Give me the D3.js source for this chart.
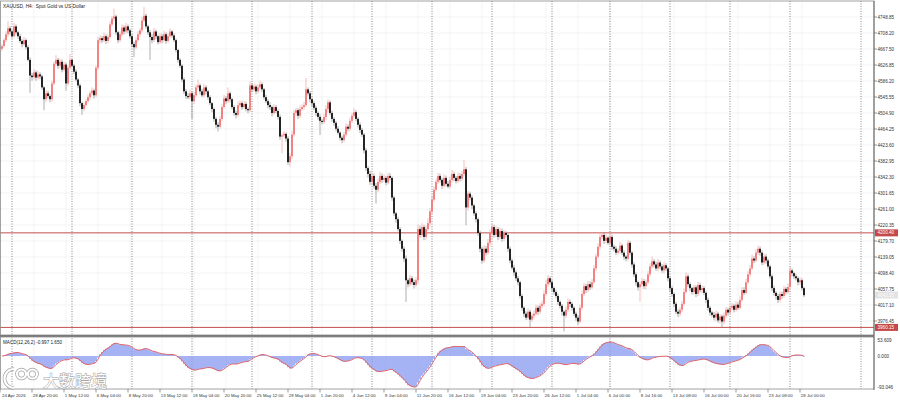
<!DOCTYPE html>
<html>
<head>
<meta charset="utf-8">
<script src="https://cdn.jsdelivr.net/npm/d3@7"></script>
<style>
  html, body { margin: 0; padding: 0; background: #fff; }
  svg { display: block; font-family: "Liberation Sans", Arial, sans-serif; }
</style>
</head>
<body>
<div class="main"></div>
<script>
// XAUUSD H4 closes, one per bar, starting 24 Apr 2026 04:00
const closes = [
  4675,4690,4705,4720,4712,4700,4725,4710,4700,4688,
  4680,4690,4672,4640,4600,4596,4608,4595,4603,4598,
  4570,4540,4555,4548,4540,4580,4630,4640,4625,4635,
  4615,4628,4580,4620,4640,4625,4610,4590,4575,4530,
  4515,4525,4535,4545,4555,4562,4550,4620,4690,4695,
  4690,4700,4688,4698,4730,4745,4750,4710,4690,4705,
  4722,4712,4725,4715,4700,4680,4672,4690,4705,4715,
  4740,4752,4725,4710,4698,4690,4712,4700,4685,4700,
  4690,4705,4688,4700,4712,4702,4690,4665,4640,4625,
  4590,4560,4548,4545,4555,4535,4550,4570,4575,4560,
  4550,4570,4560,4545,4530,4515,4490,4475,4470,4490,
  4520,4542,4535,4555,4540,4520,4505,4500,4525,4530,
  4520,4528,4515,4512,4575,4565,4572,4560,4570,4578,
  4565,4545,4535,4525,4520,4505,4520,4510,4495,4445,
  4448,4452,4440,4380,4395,4450,4505,4512,4498,4515,
  4520,4525,4565,4555,4540,4530,4518,4505,4495,4485,
  4482,4495,4515,4532,4505,4490,4480,4465,4455,4442,
  4436,4450,4470,4465,4485,4498,4507,4490,4475,4462,
  4450,4410,4365,4350,4330,4345,4320,4310,4330,4345,
  4335,4340,4328,4345,4340,4290,4250,4235,4210,4180,
  4160,4135,4080,4070,4085,4075,4068,4080,4210,4195,
  4215,4190,4210,4225,4255,4285,4310,4330,4345,4335,
  4320,4340,4325,4318,4335,4350,4340,4332,4345,4338,
  4350,4362,4265,4300,4290,4270,4250,4235,4200,4160,
  4130,4160,4150,4175,4200,4215,4195,4210,4190,4205,
  4185,4200,4195,4160,4130,4112,4100,4085,4075,4040,
  4010,3995,3985,4000,3980,3990,3995,4010,4000,4015,
  4020,4045,4070,4085,4075,4060,4050,4040,4025,4015,
  4000,3990,4005,4025,4020,4010,3995,3985,3975,4010,
  4045,4065,4055,4070,4062,4075,4110,4140,4165,4190,
  4195,4180,4188,4175,4190,4165,4160,4150,4155,4168,
  4150,4140,4135,4175,4150,4120,4095,4075,4062,4070,
  4078,4065,4075,4095,4115,4128,4120,4110,4125,4115,
  4105,4118,4110,4085,4060,4045,4020,4000,3995,4005,
  4020,4050,4090,4070,4060,4050,4062,4045,4068,4055,
  4060,4048,4030,4010,3998,3992,3985,3995,3978,3988,
  3975,3990,4005,3998,4010,4015,4005,4018,4010,4030,
  4055,4048,4075,4095,4110,4135,4130,4150,4160,4150,
  4125,4140,4130,4115,4090,4060,4048,4040,4030,4045,
  4040,4058,4050,4063,4105,4098,4090,4085,4075,4080,
  4060,4042
];
// upper / lower shadow length beyond the body, price units
const wickUp = [
  5,6,8,18,6,4,9,5,4,6, 5,8,4,5,6,7,8,5,9,6, 5,4,8,6,5,7,6,12,5,8, 6,7,5,6,15,4,5,6,4,5,
  4,6,5,7,6,8,5,6,8,7, 6,9,5,7,8,6,20,5,4,7, 8,6,9,5,4,5,6,7,8,6, 9,22,5,4,6,7,9,5,4,8,
  6,9,5,7,8,4,5,4,3,5, 4,5,6,7,9,5,8,7,15,5, 6,9,5,4,5,3,4,5,6,8, 7,9,6,15,5,4,5,6,9,7,
  5,8,6,4,10,6,8,5,7,9, 5,4,6,5,7,4,8,5,4,6, 5,7,4,6,8,10,8,6,5,9, 7,8,29,5,6,4,5,6,4,7,
  5,8,9,7,5,6,4,5,6,4, 5,7,9,6,8,7,10,5,4,6, 5,4,6,5,8,9,6,7,8,10, 6,9,5,8,7,4,5,4,6,5,
  4,6,8,5,9,6,7,8,12,9, 10,6,9,12,8,10,9,8,7,6, 5,9,6,7,8,10,6,5,9,7, 8,23,6,7,5,6,4,5,4,6,
  5,9,7,10,8,9,6,8,5,9, 6,8,5,4,6,5,7,5,6,4, 5,4,6,8,5,7,9,8,6,7, 8,9,10,8,5,6,4,5,6,4,
  5,4,8,9,6,5,4,5,6,8, 9,8,6,9,7,8,9,8,9,8, 8,6,9,5,15,6,5,7,6,9, 5,6,4,8,5,4,6,5,4,7,
  8,5,7,9,8,12,6,7,9,5, 6,8,5,4,5,6,4,5,6,7, 8,9,10,6,5,4,7,5,8,6, 7,5,4,6,5,4,7,8,5,6,
  5,8,7,5,6,7,5,8,6,9, 8,7,9,8,9,10,6,9,8,6, 5,8,6,5,4,5,6,4,5,7, 6,8,5,9,9,5,4,6,5,7,
  5,4
];
const wickDn = [
  6,4,5,7,8,5,4,6,7,5, 8,5,6,4,44,9,6,8,5,7, 6,28,7,5,8,6,4,5,8,6, 7,5,18,6,5,4,6,5,7,8,
  15,6,5,4,7,6,9,5,6,8, 7,5,8,6,4,5,6,7,8,5, 6,8,5,7,6,8,25,5,4,6, 5,4,6,7,58,8,5,7,6,5,
  8,6,7,5,4,6,5,6,7,5, 6,7,8,5,6,45,7,5,6,8, 5,6,8,7,6,8,7,9,12,5, 6,4,7,5,8,6,7,9,5,6,
  7,5,6,8,5,7,6,8,5,6, 7,6,5,8,7,9,5,6,7,8, 42,6,8,7,12,6,5,7,8,6, 5,7,4,6,8,7,6,8,7,36,
  6,5,7,8,6,7,8,6,5,7, 8,6,5,7,6,5,4,6,7,8, 6,8,7,9,8,6,7,35,6,5, 8,6,7,5,6,8,7,9,6,8,
  7,9,55,8,6,7,9,6,8,7, 6,8,7,5,6,8,5,4,6,7, 8,6,7,5,6,7,8,6,5,7, 6,5,45,8,7,9,6,8,7,9,
  8,6,7,5,8,6,7,5,8,6, 7,5,6,8,7,6,9,7,8,6, 7,8,6,5,19,6,7,5,8,6, 5,6,4,7,6,8,7,6,8,7,
  9,40,6,5,8,7,6,8,9,5, 6,5,8,6,7,5,4,6,5,7, 6,8,7,5,6,8,7,6,5,7, 6,8,7,5,6,8,7,9,8,37,
  6,7,8,5,6,5,7,6,8,7, 6,8,7,8,9,7,8,6,9,7, 6,5,4,7,8,6,7,8,5,6, 7,6,8,7,8,6,7,9,6,8,
  15,7,6,8,5,6,7,5,6,4, 5,6,4,5,6,4,7,5,6,8, 7,6,8,7,6,8,7,9,8,6, 7,5,6,5,6,8,7,6,8,7,
  6,5
];
const firstOpen = 4668;

const priceTicks = ["4748.85","4708.20","4667.50","4626.85","4586.20","4545.55","4504.90",
  "4464.25","4423.60","4382.95","4342.30","4301.65","4261.00","4220.35","4179.70","4139.05",
  "4098.40","4057.75","4017.10","3976.45"];
const levelPrices = [4200.40, 3960.15];
const lastPrice = 4042.55;

// week separators and time labels, as bar numbers
const weekBars = [5,35,65,95,125,155,185,215,245,275,304,334,364,394];
const shiftBar = 429.5;
const labelBars = [0,16,32,48,64,80,96,112,128,144,160,176,192,208,224,240,256,272,288,304,320,336,352,368,384,400];
const labelTexts = ["24 Apr 2026","28 Apr 20:00","1 May 12:00","6 May 04:00","8 May 20:00","13 May 12:00",
  "18 May 04:00","20 May 20:00","25 May 12:00","28 May 04:00","1 Jun 20:00","4 Jun 12:00","9 Jun 04:00",
  "11 Jun 20:00","16 Jun 12:00","19 Jun 04:00","23 Jun 20:00","26 Jun 12:00","1 Jul 04:00","6 Jul 00:00",
  "8 Jul 16:00","13 Jul 08:00","16 Jul 00:00","20 Jul 16:00","23 Jul 08:00","28 Jul 00:00"];

const macdParams = [12, 26, 2];
const macdTicks = ["53.609", "0.000", "-93.046"];
const macdTitle = "MACD(12,26,2) -0.997 1.650";
const chartTitle = "XAUUSD, H4:  Spot Gold vs US Dollar";

// layout
const W = 900, H = 400;
const right = 874;
const main = {top: 1, bottom: 335};
const sub = {top: 337, bottom: 389};

const svg = d3.select(".main").append("svg")
  .attr("width", W).attr("height", H);

const x = d3.scaleLinear().domain([0, 436]).range([2, right]);
const y = d3.scaleLinear()
  .domain([+priceTicks[priceTicks.length - 1], +priceTicks[0]])
  .range([321, 17]);
const ym = d3.scaleLinear()
  .domain([+macdTicks[2], +macdTicks[0]])
  .range([sub.bottom, sub.top]);

// candles
const bars = closes.map((c, i) => {
  const o = i === 0 ? firstOpen : closes[i - 1];
  return {i: i, o: o, c: c,
    h: Math.max(o, c) + wickUp[i],
    l: Math.min(o, c) - wickDn[i]};
});

// MACD main = EMA(fast) - EMA(slow), signal = SMA(main)
function ema(vals, n) {
  const k = 2 / (n + 1), out = [];
  vals.forEach((v, i) => out.push(i === 0 ? v : out[i - 1] + k * (v - out[i - 1])));
  return out;
}
const eFast = ema(closes, macdParams[0]);
const eSlow = ema(closes, macdParams[1]);
const macd = closes.map((c, i) => eFast[i] - eSlow[i]);
const signal = macd.map((m, i) => {
  const s = macd.slice(Math.max(0, i - macdParams[2] + 1), i + 1);
  return d3.mean(s);
});

// clip paths
const defs = svg.append("defs");
defs.append("clipPath").attr("id", "clipMain").append("rect")
  .attr("x", 0).attr("y", main.top).attr("width", right).attr("height", main.bottom - main.top);
defs.append("clipPath").attr("id", "clipSub").append("rect")
  .attr("x", 0).attr("y", sub.top).attr("width", right).attr("height", sub.bottom - sub.top);

// light grid
const grid = svg.append("g").attr("stroke", "#ededed").attr("stroke-width", 0.6);
grid.selectAll(".hg").data(priceTicks).join("line")
  .attr("x1", 0).attr("x2", right)
  .attr("y1", d => y(+d)).attr("y2", d => y(+d));
grid.selectAll(".vg").data(labelBars.slice(1)).join("line")
  .attr("x1", d => x(d)).attr("x2", d => x(d))
  .attr("y1", main.top).attr("y2", sub.bottom);

// week separators
svg.append("g")
  .selectAll("line").data(weekBars.concat([shiftBar])).join("line")
  .attr("x1", d => x(d)).attr("x2", d => x(d))
  .attr("y1", main.top).attr("y2", sub.bottom)
  .attr("stroke", "#555").attr("stroke-width", 0.7)
  .attr("stroke-dasharray", "1,1.5");

// level lines
svg.append("g").selectAll("line").data(levelPrices).join("line")
  .attr("x1", 0).attr("x2", right)
  .attr("y1", d => y(d)).attr("y2", d => y(d))
  .attr("stroke", "#c65050").attr("stroke-width", 1);

// candles
const cg = svg.append("g").attr("clip-path", "url(#clipMain)");
cg.selectAll(".wick").data(bars).join("line")
  .attr("x1", d => x(d.i)).attr("x2", d => x(d.i))
  .attr("y1", d => y(d.h)).attr("y2", d => y(d.l))
  .attr("stroke", d => d.c >= d.o ? "#f4a0a0" : "#8a8a8a")
  .attr("stroke-width", 0.7);
cg.selectAll(".body").data(bars).join("rect")
  .attr("x", d => x(d.i) - 0.9)
  .attr("width", 1.8)
  .attr("y", d => y(Math.max(d.o, d.c)))
  .attr("height", d => Math.max(0.7, Math.abs(y(d.o) - y(d.c))))
  .attr("fill", d => d.c >= d.o ? "#f27878" : "#111");

// MACD histogram + signal
const mg = svg.append("g").attr("clip-path", "url(#clipSub)");
mg.selectAll("rect").data(macd).join("rect")
  .attr("x", (d, i) => x(i) - 0.8)
  .attr("width", 1.6)
  .attr("y", d => Math.min(ym(d), ym(0)))
  .attr("height", d => Math.abs(ym(d) - ym(0)))
  .attr("fill", "#8fa0f0");
mg.append("path").datum(signal)
  .attr("fill", "none").attr("stroke", "#e05a5a").attr("stroke-width", 0.9)
  .attr("d", d3.line().x((d, i) => x(i)).y(d => ym(d)));

// panel frames
const frame = svg.append("g").attr("fill", "none");
frame.append("rect").attr("x", 0.5).attr("y", main.top).attr("width", right - 0.5)
  .attr("height", main.bottom - main.top).attr("stroke", "#8c8c8c").attr("stroke-width", 0.8);
frame.append("line").attr("x1", 0).attr("x2", right).attr("y1", 336).attr("y2", 336)
  .attr("stroke", "#7a7a7a").attr("stroke-width", 1.8);
frame.append("rect").attr("x", 0.5).attr("y", sub.top).attr("width", right - 0.5)
  .attr("height", sub.bottom - sub.top).attr("stroke", "#8c8c8c").attr("stroke-width", 0.8);
svg.append("line").attr("x1", right).attr("x2", right).attr("y1", main.top).attr("y2", sub.bottom + 1)
  .attr("stroke", "#555").attr("stroke-width", 0.8);

// price axis
const pa = svg.append("g").attr("font-size", 4.6).attr("fill", "#333");
pa.selectAll("line").data(priceTicks).join("line")
  .attr("x1", right).attr("x2", right + 3)
  .attr("y1", d => y(+d)).attr("y2", d => y(+d))
  .attr("stroke", "#555").attr("stroke-width", 0.6);
pa.selectAll("text").data(priceTicks).join("text")
  .attr("x", right + 3.5).attr("y", d => y(+d) + 1.6)
  .text(d => d);

// level labels
const ll = svg.append("g").attr("font-size", 4.6);
ll.selectAll("rect").data(levelPrices).join("rect")
  .attr("x", right + 1).attr("width", 23).attr("y", d => y(d) - 3.5).attr("height", 7)
  .attr("fill", "#c44848");
ll.selectAll("text").data(levelPrices).join("text")
  .attr("x", right + 3.5).attr("y", d => y(d) + 1.6).attr("fill", "#fff")
  .text(d => d.toFixed(2));

// last price label
svg.append("rect").attr("x", right + 1).attr("width", 23)
  .attr("y", y(lastPrice) - 3.5).attr("height", 7).attr("fill", "#e2e2e2");
svg.append("text").attr("x", right + 3.5).attr("y", y(lastPrice) + 1.6)
  .attr("font-size", 4.6).attr("fill", "#fafafa").text(lastPrice.toFixed(2));

// MACD axis
const ma = svg.append("g").attr("font-size", 4.6).attr("fill", "#333");
ma.selectAll("text").data(macdTicks).join("text")
  .attr("x", right + 3.5)
  .attr("y", (d, i) => i === 0 ? ym(+d) + 4.5 : i === 2 ? ym(+d) - 0.5 : ym(+d) + 1.6)
  .text(d => d);

// time axis
const ta = svg.append("g").attr("font-size", 4.4).attr("fill", "#333");
ta.selectAll("line").data(labelBars).join("line")
  .attr("x1", d => x(d) - 2).attr("x2", d => x(d) - 2)
  .attr("y1", sub.bottom).attr("y2", sub.bottom + 3.5)
  .attr("stroke", "#555").attr("stroke-width", 0.6);
ta.selectAll("text").data(labelBars).join("text")
  .attr("x", d => d === 0 ? 2 : x(d) - 1.2).attr("y", 396.5)
  .text((d, i) => labelTexts[i]);

// titles
svg.append("text").attr("x", 3).attr("y", 7.5).attr("font-size", 4.8).attr("fill", "#222")
  .attr("xml:space", "preserve").text(chartTitle);
svg.append("text").attr("x", 3).attr("y", 344).attr("font-size", 4.6).attr("fill", "#222")
  .text(macdTitle);

// watermark: white glyphs with a thin grey outline, kept above the time labels
const wm = svg.append("g").attr("opacity", 0.95);
const logo = [["M14,369 A9.5,9.5 0 1 0 14,388"], ["M17,374 a4.5,4.5 0 1 0 9,0 a4.5,4.5 0 1 0 -9,0"],
  ["M28,374 a4.5,4.5 0 1 0 9,0 a4.5,4.5 0 1 0 -9,0"]];
wm.selectAll(".lo").data(logo).join("path")
  .attr("d", d => d[0]).attr("fill", "none").attr("stroke", "#a0a0a0").attr("stroke-width", 3.6);
wm.selectAll(".li").data(logo).join("path")
  .attr("d", d => d[0]).attr("fill", "none").attr("stroke", "#fff").attr("stroke-width", 2.2);
wm.append("text").attr("x", 43).attr("y", 387)
  .attr("font-family", "'Noto Sans CJK SC', sans-serif").attr("font-size", 16)
  .attr("fill", "#fff").attr("stroke", "#a0a0a0").attr("stroke-width", 1)
  .attr("paint-order", "stroke")
  .text("大数跨境");
</script>
</body>
</html>
